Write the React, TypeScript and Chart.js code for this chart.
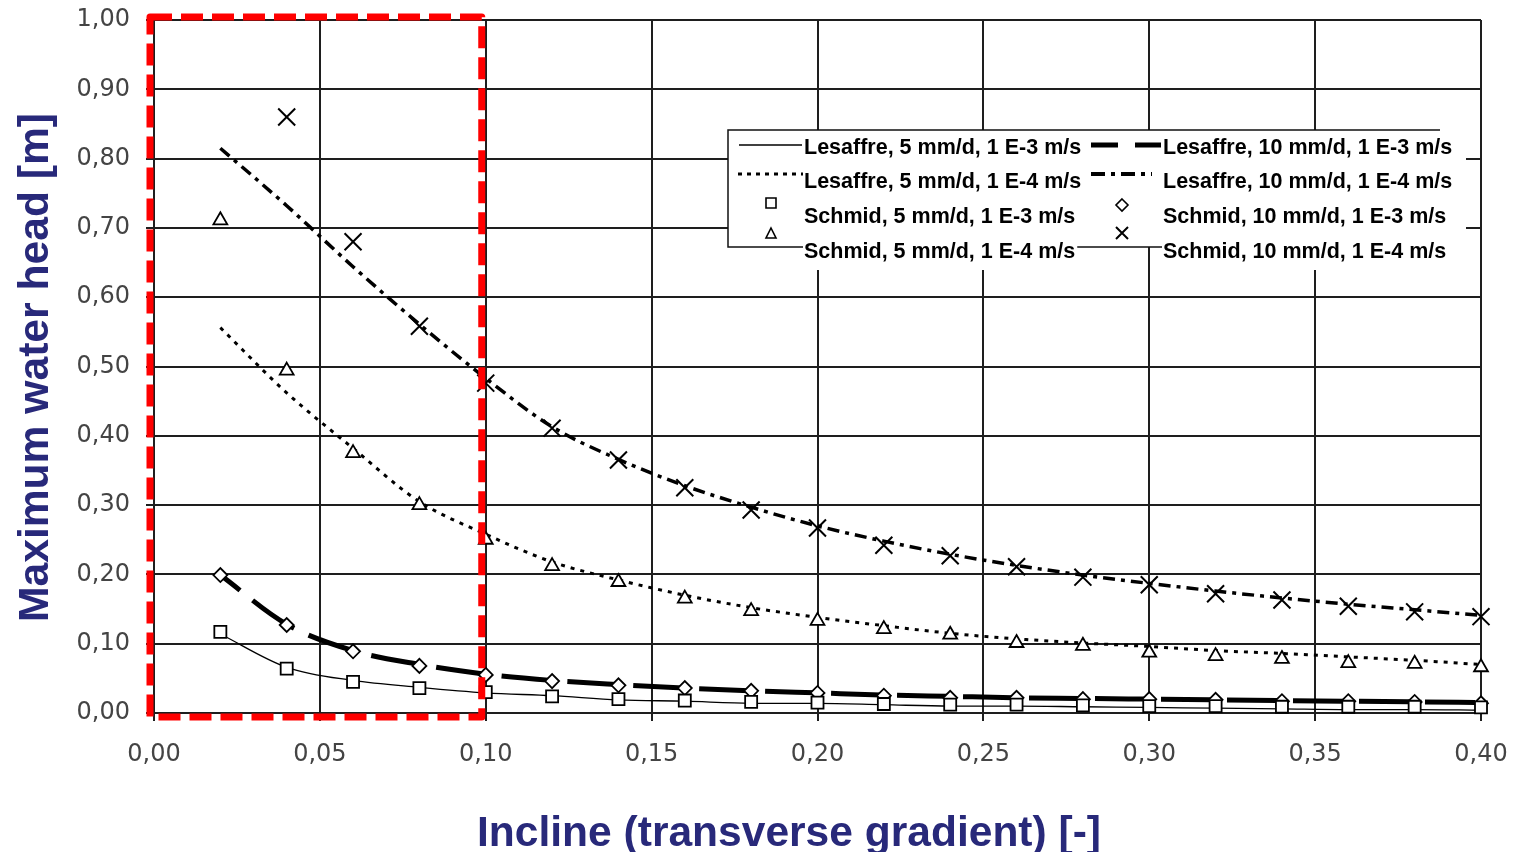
import React, { useEffect, useRef } from "react";
import { Chart, registerables } from "chart.js";

Chart.register(...registerables);

// ---------- data ----------
const inclines = [0.02, 0.04, 0.06, 0.08, 0.1, 0.12, 0.14, 0.16, 0.18, 0.2, 0.22, 0.24, 0.26, 0.28, 0.3, 0.32, 0.34, 0.36, 0.38, 0.4];

const xTickLabels = ["0,00", "0,05", "0,10", "0,15", "0,20", "0,25", "0,30", "0,35", "0,40"];
const yTickLabels = ["0,00", "0,10", "0,20", "0,30", "0,40", "0,50", "0,60", "0,70", "0,80", "0,90", "1,00"];

const lesaffre5E3 = [0.114, 0.066, 0.047, 0.037, 0.029, 0.025, 0.019, 0.017, 0.014, 0.014, 0.012, 0.010, 0.010, 0.009, 0.008, 0.007, 0.006, 0.005, 0.005, 0.004];
const lesaffre5E4 = [0.556, 0.462, 0.382, 0.305, 0.258, 0.218, 0.192, 0.170, 0.152, 0.138, 0.126, 0.115, 0.107, 0.101, 0.096, 0.090, 0.086, 0.081, 0.076, 0.070];
const schmid5E3 = [0.117, 0.064, 0.045, 0.036, 0.030, 0.024, 0.020, 0.018, 0.016, 0.015, 0.013, 0.012, 0.012, 0.011, 0.010, 0.010, 0.009, 0.009, 0.009, 0.008];
const schmid5E4 = [0.711, 0.494, 0.375, 0.300, 0.250, 0.212, 0.189, 0.165, 0.147, 0.133, 0.121, 0.113, 0.101, 0.097, 0.087, 0.082, 0.078, 0.072, 0.071, 0.066];
const lesaffre10E3 = [0.199, 0.128, 0.090, 0.070, 0.056, 0.047, 0.041, 0.036, 0.032, 0.029, 0.026, 0.024, 0.022, 0.021, 0.020, 0.019, 0.018, 0.017, 0.016, 0.015];
const lesaffre10E4 = [0.815, 0.732, 0.644, 0.561, 0.483, 0.413, 0.366, 0.328, 0.297, 0.270, 0.248, 0.229, 0.213, 0.199, 0.187, 0.176, 0.166, 0.157, 0.149, 0.141];
const schmid10E3 = [0.199, 0.127, 0.089, 0.068, 0.055, 0.046, 0.040, 0.036, 0.032, 0.029, 0.025, 0.022, 0.022, 0.020, 0.020, 0.019, 0.017, 0.017, 0.016, 0.014];
const schmid10E4 = [null, 0.860, 0.680, 0.558, 0.476, 0.411, 0.365, 0.325, 0.293, 0.267, 0.242, 0.227, 0.211, 0.196, 0.185, 0.172, 0.163, 0.154, 0.146, 0.139];

const seriesNames = [
  "Lesaffre, 5 mm/d, 1 E-3 m/s",
  "Lesaffre, 5 mm/d, 1 E-4 m/s",
  "Schmid, 5 mm/d, 1 E-3 m/s",
  "Schmid, 5 mm/d, 1 E-4 m/s",
  "Lesaffre, 10 mm/d, 1 E-3 m/s",
  "Lesaffre, 10 mm/d, 1 E-4 m/s",
  "Schmid, 10 mm/d, 1 E-3 m/s",
  "Schmid, 10 mm/d, 1 E-4 m/s",
];

const xTitle = "Incline (transverse gradient) [-]";
const yTitle = "Maximum water head [m]";

const TITLE_COLOR = "#28297a";
const GRID_COLOR = "#1e1e1e";

const pts = (arr: (number | null)[]) => inclines.map((x, i) => ({ x, y: arr[i] }));

function fitText(ctx: CanvasRenderingContext2D, text: string, x: number, y: number, target: number) {
  const w = ctx.measureText(text).width;
  const s = target / w;
  ctx.save();
  ctx.translate(x, y);
  ctx.scale(s, 1);
  ctx.textAlign = "center";
  ctx.fillText(text, 0, 0);
  ctx.restore();
}

const overlayPlugin = {
  id: "overlay",
  afterDatasetsDraw(chart: any) {
    const { ctx, scales } = chart;
    const xs = scales.x;
    const ys = scales.y;
    ctx.save();
    ctx.strokeStyle = "#ff0000";
    ctx.lineWidth = 7;
    ctx.lineJoin = "round";
    ctx.setLineDash([22, 9]);
    const l = xs.getPixelForValue(0) - 4;
    const r = xs.getPixelForValue(0.1) - 4;
    const t = ys.getPixelForValue(1) - 3;
    const b = ys.getPixelForValue(0) + 4;
    ctx.strokeRect(l, t, r - l, b - t);
    ctx.restore();
  },
  afterDraw(chart: any) {
    const { ctx } = chart;
    ctx.save();
    // ----- legend -----
    const L = 728, T = 130, R = 1466, B = 247;
    ctx.fillStyle = "#fff";
    ctx.fillRect(L, T, R - L, B - T);
    ctx.strokeStyle = "#111";
    ctx.lineWidth = 1.5;
    ctx.beginPath();
    ctx.moveTo(1440, T);
    ctx.lineTo(L, T);
    ctx.lineTo(L, B);
    ctx.lineTo(1440, B);
    ctx.stroke();

    ctx.font = 'bold 21.5px "Liberation Sans", Arial, sans-serif';
    ctx.textBaseline = "middle";
    const rows = [148, 182, 217, 252];
    const cols = [804, 1163];
    seriesNames.forEach((txt, idx) => {
      const col = idx < 4 ? 0 : 1;
      const row = idx % 4;
      const w = ctx.measureText(txt).width;
      ctx.fillStyle = "#fff";
      ctx.fillRect(cols[col] - 1, rows[row] - 17, w + 3, 35);
      ctx.fillStyle = "#000";
      ctx.textAlign = "left";
      ctx.fillText(txt, cols[col], rows[row]);
    });

    ctx.strokeStyle = "#000";
    ctx.lineWidth = 1.3;
    ctx.setLineDash([]);
    ctx.beginPath();
    ctx.moveTo(739, 145);
    ctx.lineTo(802, 145);
    ctx.stroke();
    ctx.lineWidth = 3;
    ctx.setLineDash([4, 5]);
    ctx.beginPath();
    ctx.moveTo(738, 174);
    ctx.lineTo(803, 174);
    ctx.stroke();
    ctx.lineWidth = 5;
    ctx.setLineDash([27, 17]);
    ctx.beginPath();
    ctx.moveTo(1091, 145);
    ctx.lineTo(1161, 145);
    ctx.stroke();
    ctx.lineWidth = 4;
    ctx.setLineDash([14, 6, 4, 6]);
    ctx.beginPath();
    ctx.moveTo(1091, 174);
    ctx.lineTo(1152, 174);
    ctx.stroke();
    ctx.setLineDash([]);
    ctx.lineWidth = 1.6;
    ctx.fillStyle = "#fff";
    ctx.beginPath();
    ctx.rect(766, 198, 10, 10);
    ctx.fill();
    ctx.stroke();
    ctx.beginPath();
    ctx.moveTo(771, 228);
    ctx.lineTo(776, 238);
    ctx.lineTo(766, 238);
    ctx.closePath();
    ctx.fill();
    ctx.stroke();
    ctx.beginPath();
    ctx.moveTo(1122, 199);
    ctx.lineTo(1128, 205);
    ctx.lineTo(1122, 211);
    ctx.lineTo(1116, 205);
    ctx.closePath();
    ctx.fill();
    ctx.stroke();
    ctx.lineWidth = 2;
    ctx.beginPath();
    ctx.moveTo(1116, 227);
    ctx.lineTo(1128, 239);
    ctx.moveTo(1128, 227);
    ctx.lineTo(1116, 239);
    ctx.stroke();

    // ----- axis titles -----
    ctx.fillStyle = TITLE_COLOR;
    ctx.font = 'bold 42px "Liberation Sans", Arial, sans-serif';
    ctx.textBaseline = "alphabetic";
    fitText(ctx, xTitle, 789, 846, 624);
    ctx.save();
    ctx.translate(48, 367.5);
    ctx.rotate(-Math.PI / 2);
    fitText(ctx, yTitle, 0, 0, 509);
    ctx.restore();
    ctx.restore();
  },
};

const zeroPad = (s: any) => {
  s.paddingTop = 0;
  s.paddingBottom = 0;
  s.paddingLeft = 0;
  s.paddingRight = 0;
};

export default function App() {
  const ref = useRef<HTMLCanvasElement>(null);
  useEffect(() => {
    document.body.style.margin = "0";
    const markerBase = {
      showLine: false,
      borderColor: "#000",
      backgroundColor: "#fff",
      pointBorderColor: "#000",
      pointBackgroundColor: "#fff",
      pointBorderWidth: 1.8,
      clip: false as any,
    };
    const lineBase = {
      pointRadius: 0,
      borderColor: "#000",
      backgroundColor: "#000",
      fill: false,
      cubicInterpolationMode: "monotone" as const,
      borderCapStyle: "butt" as const,
      clip: false as any,
    };
    const chart = new Chart(ref.current as HTMLCanvasElement, {
      type: "line",
      data: {
        datasets: [
          { ...markerBase, label: seriesNames[2], data: pts(schmid5E3), pointStyle: "rect", pointRadius: 8.5 },
          { ...markerBase, label: seriesNames[3], data: pts(schmid5E4), pointStyle: "triangle", pointRadius: 8 },
          { ...markerBase, label: seriesNames[6], data: pts(schmid10E3), pointStyle: "rectRot", pointRadius: 7 },
          { ...markerBase, label: seriesNames[7], data: pts(schmid10E4), pointStyle: "crossRot", pointRadius: 12, pointBorderWidth: 2 },
          { ...lineBase, label: seriesNames[0], data: pts(lesaffre5E3), borderWidth: 1.3 },
          { ...lineBase, label: seriesNames[1], data: pts(lesaffre5E4), borderWidth: 3, borderDash: [4, 6] },
          { ...lineBase, label: seriesNames[4], data: pts(lesaffre10E3), borderWidth: 5, borderDash: [50, 16], borderDashOffset: 25 },
          { ...lineBase, label: seriesNames[5], data: pts(lesaffre10E4), borderWidth: 3.5, borderDash: [12, 6, 4, 6] },
        ],
      },
      options: {
        animation: false,
        responsive: false,
        devicePixelRatio: 1,
        layout: { padding: { left: 0, top: 20, right: 32, bottom: 0 } },
        plugins: {
          legend: { display: false },
          tooltip: { enabled: false },
          title: { display: false },
        },
        scales: {
          x: {
            type: "linear",
            min: 0,
            max: 0.4,
            ticks: {
              stepSize: 0.05,
              padding: 19,
              color: "#444",
              font: { family: '"DejaVu Sans", sans-serif', size: 24 },
              callback: (v: any) => xTickLabels[Math.round(Number(v) * 20)],
              maxRotation: 0,
              autoSkip: false,
            },
            grid: { color: GRID_COLOR, lineWidth: 2, tickLength: 8, drawTicks: true },
            border: { display: true, color: GRID_COLOR, width: 2 },
            afterFit: (s: any) => {
              s.height = 852 - 713;
              zeroPad(s);
            },
          },
          y: {
            type: "linear",
            min: 0,
            max: 1,
            ticks: {
              stepSize: 0.1,
              padding: 16,
              color: "#444",
              font: { family: '"DejaVu Sans", sans-serif', size: 24 },
              callback: (v: any) => yTickLabels[Math.round(Number(v) * 10)],
              autoSkip: false,
            },
            grid: { color: GRID_COLOR, lineWidth: 2, tickLength: 8, drawTicks: true },
            border: { display: true, color: GRID_COLOR, width: 2 },
            afterFit: (s: any) => {
              s.width = 154;
              zeroPad(s);
            },
          },
        },
      },
      plugins: [overlayPlugin],
    });
    return () => chart.destroy();
  }, []);
  return (
    <div style={{ position: "relative", width: 1513, height: 852, background: "#fff" }}>
      <canvas ref={ref} width={1513} height={852} style={{ display: "block", width: 1513, height: 852 }} />
    </div>
  );
}
